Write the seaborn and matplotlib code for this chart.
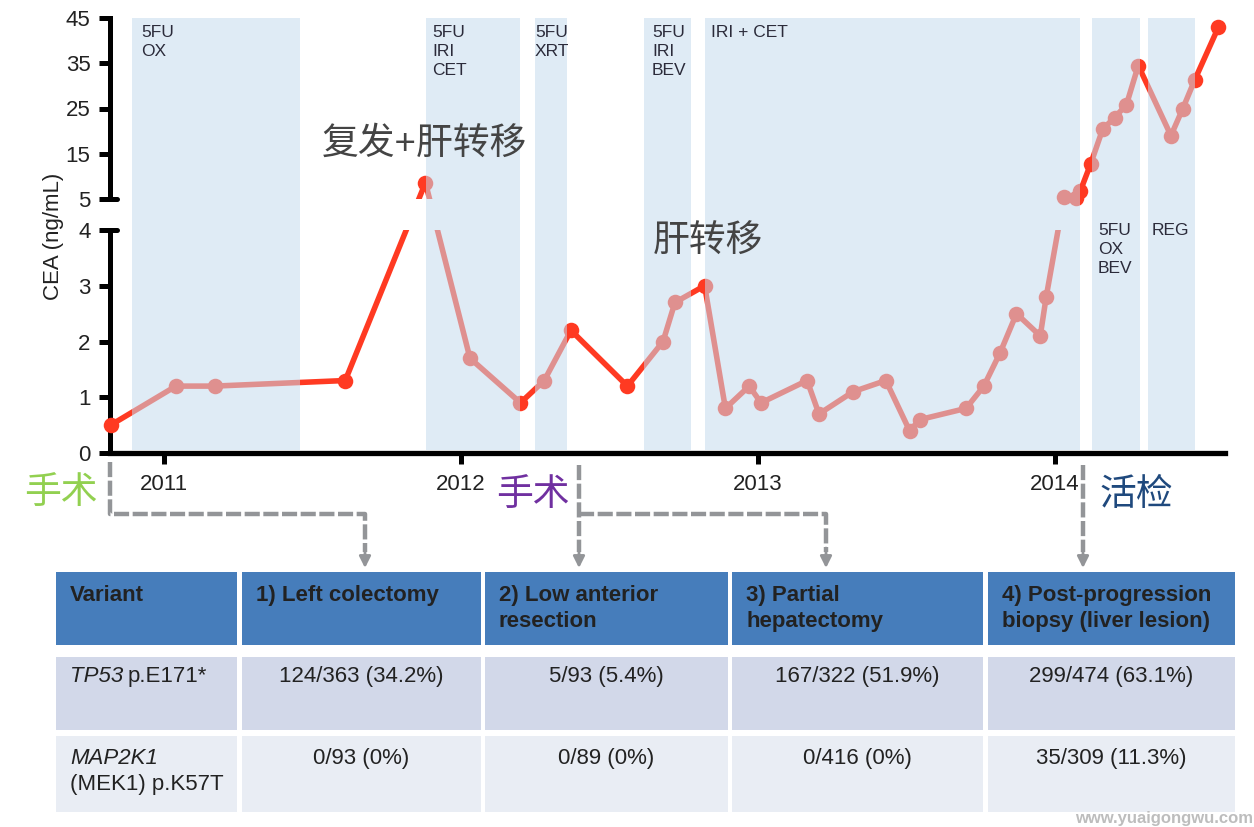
import numpy as np
import pandas as pd
import matplotlib
matplotlib.use("Agg")
import matplotlib.pyplot as plt
from matplotlib.patches import Rectangle
import seaborn as sns

# -----------------------------
# Data
# -----------------------------
years = [2010.82, 2011.04, 2011.17, 2011.61, 2011.88, 2012.03, 2012.20, 2012.28, 2012.37, 2012.56,
         2012.68, 2012.72, 2012.82, 2012.89, 2012.97, 2013.01, 2013.165, 2013.205, 2013.32, 2013.43,
         2013.51, 2013.545, 2013.70, 2013.76, 2013.815, 2013.87, 2013.95, 2013.97, 2014.03, 2014.07,
         2014.085, 2014.12, 2014.16, 2014.20, 2014.24, 2014.28, 2014.39, 2014.43, 2014.47, 2014.55]
cea = [0.5, 1.2, 1.2, 1.3, 8.6, 1.7, 0.9, 1.3, 2.2, 1.2,
       2.0, 2.7, 3.0, 0.8, 1.2, 0.9, 1.3, 0.7, 1.1, 1.3,
       0.4, 0.6, 0.8, 1.2, 1.8, 2.5, 2.1, 2.8, 5.5, 5.3,
       6.8, 12.8, 20.4, 23.0, 25.8, 34.5, 19.0, 25.0, 31.3, 43.0]

band_start = [2010.892, 2011.882, 2012.249, 2012.616, 2012.822, 2014.125, 2014.313]
band_end = [2011.458, 2012.199, 2012.357, 2012.774, 2014.084, 2014.286, 2014.471]
band_text = ["5FU\nOX", "5FU\nIRI\nCET", "5FU\nXRT", "5FU\nIRI\nBEV", "IRI + CET", "5FU\nOX\nBEV", "REG"]

y_ticks = [0, 1, 2, 3, 4, 5, 15, 25, 35, 45]
x_ticks = [2011, 2012, 2013, 2014]

table_head = ["Variant", "1) Left colectomy", "2) Low anterior\nresection", "3) Partial\nhepatectomy",
              "4) Post-progression\nbiopsy (liver lesion)"]
tp53_row = ["124/363 (34.2%)", "5/93 (5.4%)", "167/322 (51.9%)", "299/474 (63.1%)"]
map2k1_row = ["0/93 (0%)", "0/89 (0%)", "0/416 (0%)", "35/309 (11.3%)"]

# -----------------------------
# Setup
# -----------------------------
sns.set_style("white")
plt.rcParams['font.family'] = ['Liberation Sans', 'Noto Sans CJK SC', 'DejaVu Sans']

W, H = 1254, 827
fig = plt.figure(figsize=(W / 100, H / 100), dpi=100)
ax = fig.add_axes([110 / W, 1 - 453 / H, (1225 - 110) / W, (453 - 18) / H])

# broken y scale, 0-4 and 5-45 share one axis
y_in = [0, 4, 5, 45]
y_out = [0, 223, 254, 435]
ax.set_yscale('function', functions=(lambda v: np.interp(v, y_in, y_out),
                                     lambda v: np.interp(v, y_out, y_in)))

df = pd.DataFrame({'year': years, 'cea': cea})
red = '#FF3A22'
sns.lineplot(data=df, x='year', y='cea', color=red, lw=4.0, estimator=None, sort=False,
             ax=ax, zorder=2, clip_on=False)
ax.axhspan(4, 5, color='white', lw=0, zorder=2.8)  # gap of the break
sns.scatterplot(data=df, x='year', y='cea', color=red, s=125, linewidth=0, ax=ax,
                zorder=3.5, clip_on=False)

# see-through bands on top of the line, this turns the red to salmon
for a, b in zip(band_start, band_end):
    ax.axvspan(a, b, ymin=0.006, color='#C4DAED', alpha=0.54, lw=0, zorder=4)

ax.set_xlim(2010.818, 2014.572)
ax.set_ylim(0, 45)
ax.set_xticks(x_ticks)
ax.set_yticks(y_ticks)
ax.minorticks_off()
ax.set_xlabel("")
ax.set_ylabel("")
ax.tick_params(axis='both', length=8, width=3.6, color='black', labelsize=16, labelcolor='#222222', bottom=True, left=True)
ax.tick_params(axis='x', pad=7)
ax.tick_params(axis='y', pad=6)

for s in ['top', 'right', 'left']:
    ax.spines[s].set_visible(False)
ax.spines['bottom'].set_linewidth(3.8)
ax.spines['bottom'].set_color('black')
ax.spines['bottom'].set_zorder(5)

# left axis in two pieces
tr = ax.get_yaxis_transform()
ax.plot([0, 0], [0, 4], transform=tr, color='black', lw=3.6, clip_on=False, zorder=3, solid_capstyle='projecting')
ax.plot([0, 0], [5, 45], transform=tr, color='black', lw=3.6, clip_on=False, zorder=3, solid_capstyle='projecting')
for v in [4, 5]:
    ax.plot([0, 0.0065], [v, v], transform=tr, color='black', lw=3.6, clip_on=False, zorder=3)

# -----------------------------
# Overlay in pixel coordinates
# -----------------------------
ov = fig.add_axes([0, 0, 1, 1])
ov.set_xlim(0, W)
ov.set_ylim(H, 0)
ov.axis('off')
ov.patch.set_alpha(0)

ov.text(54, 236, "CEA (ng/mL)", rotation=90, ha='center', va='center', fontsize=16, color='#222222')

band_text_xy = [(141, 25), (432, 25), (535, 25), (652, 25), (711, 25), (1098, 223), (1152, 223)]
for (x, y), t in zip(band_text_xy, band_text):
    ov.text(x, y, t, fontsize=12.5, color='#2b2b3a', va='top', ha='left', linespacing=1.32)

grey_dark = '#444444'
ov.text(424, 144, "复发+肝转移", fontsize=26.5, color=grey_dark, ha='center', va='center')
ov.text(708, 242, "肝转移", fontsize=26.5, color=grey_dark, ha='center', va='center')
ov.text(61, 494, "手术", fontsize=26.5, color='#92D050', ha='center', va='center')
ov.text(533, 495, "手术", fontsize=26.5, color='#7030A0', ha='center', va='center')
ov.text(1136, 495, "活检", fontsize=26.5, color='#1F497D', ha='center', va='center')

# dashed connectors between the time axis and the table
conn = '#939598'
paths = [([110, 110, 365, 365], [462, 514, 514, 552]),
         ([579, 579], [465, 552]),
         ([579, 826, 826], [514, 514, 552]),
         ([1083, 1083], [465, 552])]
for xs, ys in paths:
    ov.plot(xs, ys, color=conn, lw=3.2, ls=(0, (3.4, 0.8)))
for x in [365, 579, 826, 1083]:
    ov.annotate("", xy=(x, 568), xytext=(x, 548),
                arrowprops=dict(arrowstyle='-|>', color=conn, lw=2, mutation_scale=17, shrinkA=0, shrinkB=0))

# table
col_left = [56, 242, 485, 732, 988]
col_right = [237, 481, 728, 983, 1235]
rows = [(572, 645, '#467DBB'), (657, 730, '#D2D8E9'), (736, 812, '#E9EDF4')]
for top, bot, c in rows:
    for l, r in zip(col_left, col_right):
        ov.add_patch(Rectangle((l, top), r - l, bot - top, color=c, lw=0))

ink = '#222222'
for l, t in zip(col_left, table_head):
    ov.text(l + 14, 585, t, fontsize=16, fontweight='bold', color=ink, va='top', ha='left', linespacing=1.33)

ov.text(70, 666, "TP53", fontsize=16, style='italic', color=ink, va='top')
ov.text(128, 666, "p.E171*", fontsize=16, color=ink, va='top')
ov.text(70, 748, "MAP2K1", fontsize=16, style='italic', color=ink, va='top')
ov.text(70, 774, "(MEK1) p.K57T", fontsize=16, color=ink, va='top')
for l, r, a, b in zip(col_left[1:], col_right[1:], tp53_row, map2k1_row):
    ov.text((l + r) / 2, 666, a, fontsize=16, color=ink, va='top', ha='center')
    ov.text((l + r) / 2, 748, b, fontsize=16, color=ink, va='top', ha='center')

ov.text(1253, 826, "www.yuaigongwu.com", fontsize=12, fontweight='bold', color='#BDBDBD', ha='right', va='bottom')

fig.savefig("out.png", dpi=100)
